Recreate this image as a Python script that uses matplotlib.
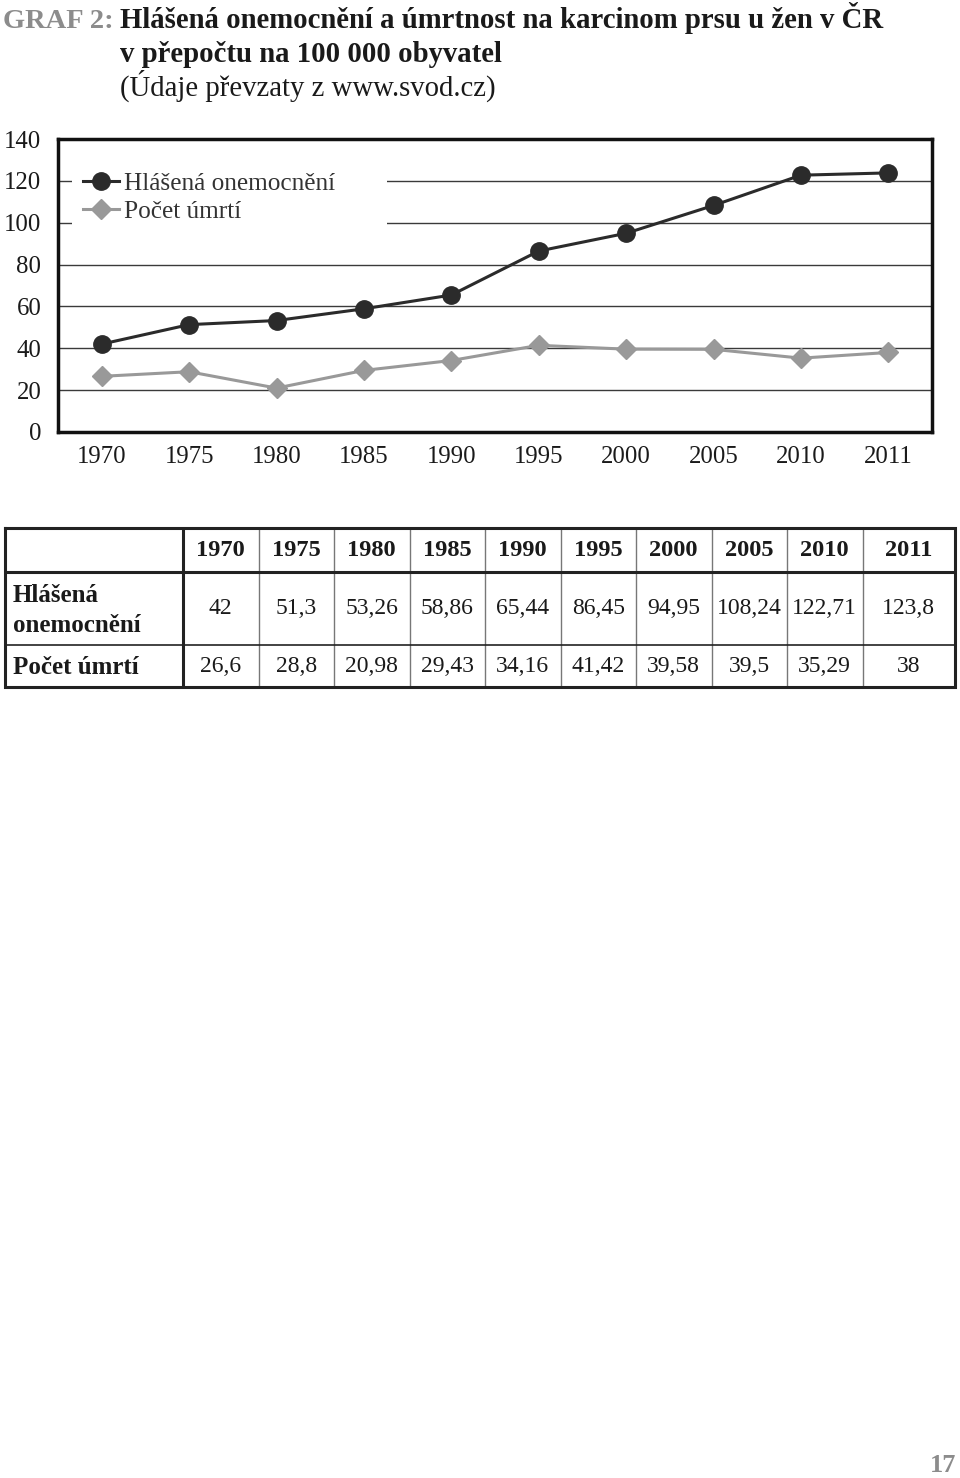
import matplotlib.pyplot as plt
import numpy as np

plt.rcParams['font.family'] = ['Liberation Serif', 'DejaVu Serif']

# data (prevzato z obrazku / tabulky)
roky = ['1970', '1975', '1980', '1985', '1990', '1995', '2000', '2005', '2010', '2011']
hlasena = [42, 51.3, 53.26, 58.86, 65.44, 86.45, 94.95, 108.24, 122.71, 123.8]
umrti = [26.6, 28.8, 20.98, 29.43, 34.16, 41.42, 39.58, 39.5, 35.29, 38]
y_ticks = [0, 20, 40, 60, 80, 100, 120, 140]
radky = ['Hlášená\nonemocnění', 'Počet úmrtí']
serie_nazvy = ['Hlášená onemocnění', 'Počet úmrtí']

W, H = 960, 1478
fig = plt.figure(figsize=(W / 100, H / 100), dpi=100)


def fx(px):
    return px / W


def fy(py):
    return 1 - py / H


def cz(v):
    return f"{v:g}".replace('.', ',')


# titulek
fig.text(fx(3), fy(28), 'GRAF 2:', color='#8c8c8c', fontsize=20.5, fontweight='bold', va='baseline')
fig.text(fx(120), fy(28), 'Hlášená onemocnění a úmrtnost na karcinom prsu u žen v ČR',
         fontsize=20.7, fontweight='bold', va='baseline', color='#1a1a1a')
fig.text(fx(120), fy(62), 'v přepočtu na 100 000 obyvatel',
         fontsize=20.7, fontweight='bold', va='baseline', color='#1a1a1a')
fig.text(fx(120), fy(96), '(Údaje převzaty z www.svod.cz)', fontsize=20.7, va='baseline', color='#1a1a1a')

# graf
ax = fig.add_axes([fx(58), fy(432), (932 - 58) / W, (432 - 139) / H])
x = np.arange(len(roky))
ax.plot(x, hlasena, color='#2b2b2b', lw=2.2, marker='o', ms=12.5, label=serie_nazvy[0], zorder=3)
ax.plot(x, umrti, color='#999999', lw=2.2, marker='D', ms=10.5, label=serie_nazvy[1], zorder=3)
ax.set_xlim(-0.5, len(roky) - 0.5)
ax.set_ylim(0, 140)
ax.set_yticks(y_ticks)
ax.set_xticks(x, roky)
ax.yaxis.grid(True, color='#3a3a3a', lw=1)
ax.set_axisbelow(True)
for s in ax.spines.values():
    s.set_linewidth(2.5)
    s.set_color('#111111')
ax.tick_params(axis='both', length=0, labelsize=17.8, colors='#1a1a1a')
ax.tick_params(axis='y', pad=12)
ax.tick_params(axis='x', pad=10)

leg = ax.legend(loc='upper left', bbox_to_anchor=(0.016, 0.696, 0.36, 0.229), mode='expand',
                frameon=True, fancybox=False, edgecolor='none', framealpha=1,
                fontsize=18.2, handlelength=1.4, handletextpad=0.2, borderaxespad=0,
                borderpad=0.45, labelspacing=0.2)
for t in leg.get_texts():
    t.set_color('#333333')

# tabulka
tab = fig.add_axes([fx(5), fy(688), 950 / W, (688 - 528) / H])
tab.set_xlim(0, 950)
tab.set_ylim(160, 0)
tab.axis('off')

col_w = [178] + [75.5] * 9 + [92]
xe = np.concatenate([[0], np.cumsum(col_w)])
ye = [0, 44, 117, 159]

for xv in xe[2:-1]:
    tab.plot([xv, xv], [ye[0], ye[-1]], color='#777777', lw=1)
tab.plot([0, xe[-1]], [ye[2], ye[2]], color='#222222', lw=1.2)
tab.plot([xe[1], xe[1]], [ye[0], ye[-1]], color='#222222', lw=2.2)
tab.plot([0, xe[-1]], [ye[1], ye[1]], color='#222222', lw=2.2)
tab.plot([0, xe[-1], xe[-1], 0, 0], [ye[0], ye[0], ye[-1], ye[-1], ye[0]],
         color='#222222', lw=2.2, clip_on=False, solid_joinstyle='miter')

xc = (xe[1:-1] + xe[2:]) / 2
for i, r in enumerate(roky):
    tab.text(xc[i], (ye[0] + ye[1]) / 2 + 1, r, ha='center', va='center',
             fontsize=17.6, fontweight='bold', color='#1a1a1a')
    tab.text(xc[i], (ye[1] + ye[2]) / 2, cz(hlasena[i]), ha='center', va='center',
             fontsize=17, color='#1a1a1a')
    tab.text(xc[i], (ye[2] + ye[3]) / 2, cz(umrti[i]), ha='center', va='center',
             fontsize=17, color='#1a1a1a')
for j, r in enumerate(radky):
    tab.text(8, (ye[j + 1] + ye[j + 2]) / 2 + 2, r, ha='left', va='center',
             fontsize=18, fontweight='bold', color='#1a1a1a', linespacing=1.4)

# cislo strany
fig.text(fx(943), fy(1465), '17', ha='center', va='center', color='#8c8c8c',
         fontsize=19, fontweight='bold')

fig.savefig('out.png', dpi=100)
